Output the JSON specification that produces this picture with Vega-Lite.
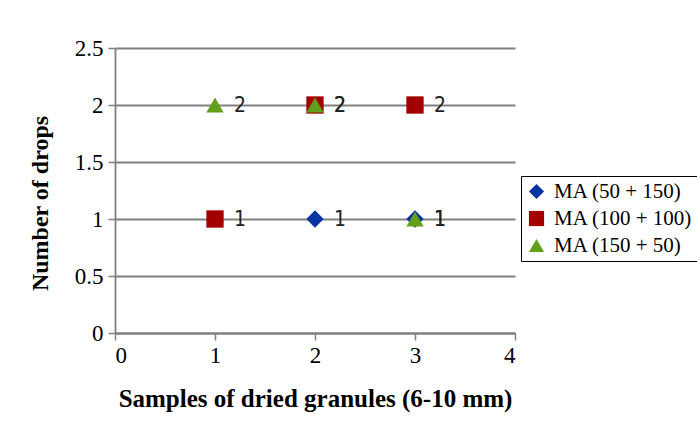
{
  "$schema": "https://vega.github.io/schema/vega-lite/v6.json",
  "width": 400,
  "height": 285,
  "autosize": {"type": "none"},
  "padding": {"left": 115, "top": 48, "right": 182, "bottom": 101},
  "background": "white",
  "config": {
    "view": {"stroke": null},
    "font": "Liberation Serif"
  },
  "data": {
    "values": [
      {"sample": 2, "drops": 1, "series": "MA (50 + 150)"},
      {"sample": 3, "drops": 1, "series": "MA (50 + 150)"},
      {"sample": 1, "drops": 1, "series": "MA (100 + 100)"},
      {"sample": 2, "drops": 2, "series": "MA (100 + 100)"},
      {"sample": 3, "drops": 2, "series": "MA (100 + 100)"},
      {"sample": 1, "drops": 2, "series": "MA (150 + 50)"},
      {"sample": 2, "drops": 2, "series": "MA (150 + 50)"},
      {"sample": 3, "drops": 1, "series": "MA (150 + 50)"}
    ]
  },
  "encoding": {
    "x": {
      "field": "sample", "type": "quantitative",
      "scale": {"domain": [0, 4], "nice": false},
      "axis": {
        "values": [0, 1, 2, 3, 4], "grid": false, "format": "~g",
        "title": "Samples of dried granules (6-10 mm)",
        "titleFont": "Liberation Serif", "titleFontSize": 25, "titleFontWeight": "bold", "titleColor": "black",
        "titlePadding": 19,
        "labelFont": "Liberation Serif", "labelFontSize": 23, "labelColor": "black", "labelPadding": 4,
        "domainColor": "#808080", "domainWidth": 1.8, "tickColor": "#808080", "tickWidth": 1.5, "tickSize": 7
      }
    },
    "y": {
      "field": "drops", "type": "quantitative",
      "scale": {"domain": [0, 2.5], "nice": false},
      "axis": {
        "values": [0, 0.5, 1, 1.5, 2, 2.5], "grid": true, "gridColor": "#808080", "gridWidth": 1.8, "format": "~g",
        "title": "Number of drops",
        "titleFont": "Liberation Serif", "titleFontSize": 24, "titleFontWeight": "bold", "titleColor": "black",
        "titlePadding": 22, "titleY": 155,
        "labelFont": "Liberation Serif", "labelFontSize": 23, "labelColor": "black", "labelPadding": 5,
        "domainColor": "#808080", "domainWidth": 1.8, "tickColor": "#808080", "tickWidth": 1.5, "tickSize": 7
      }
    }
  },
  "layer": [
    {
      "mark": {"type": "point", "filled": true, "opacity": 1},
      "encoding": {
        "color": {
          "field": "series", "type": "nominal",
          "scale": {"domain": ["MA (50 + 150)", "MA (100 + 100)", "MA (150 + 50)"], "range": ["#0833a0", "#a30000", "#62a01a"]},
          "legend": {
            "title": null, "orient": "none", "legendX": 406, "legendY": 128,
            "strokeColor": "black", "padding": 5, "fillColor": "white",
            "labelFont": "Liberation Serif", "labelFontSize": 21, "labelColor": "black",
            "symbolSize": 230, "rowPadding": 5, "labelOffset": 7
          }
        },
        "shape": {
          "field": "series", "type": "nominal",
          "scale": {"domain": ["MA (50 + 150)", "MA (100 + 100)", "MA (150 + 50)"], "range": ["diamond", "square", "triangle-up"]}
        },
        "size": {"value": 300}
      }
    },
    {
      "mark": {"type": "text", "align": "left", "dx": 19, "dy": 1, "font": "DejaVu Sans Condensed", "fontSize": 21, "color": "#222"},
      "encoding": {"text": {"field": "drops", "type": "quantitative"}}
    }
  ]
}
